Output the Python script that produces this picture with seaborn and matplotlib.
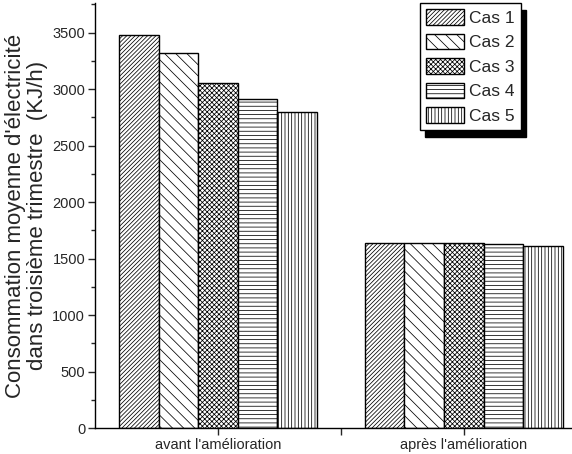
import matplotlib
matplotlib.use("Agg")
import matplotlib.pyplot as plt
import seaborn as sns
import pandas as pd
from matplotlib.ticker import MultipleLocator

periods = ["avant l'amélioration", "après l'amélioration"]
cases = ["Cas 1", "Cas 2", "Cas 3", "Cas 4", "Cas 5"]
avant = [3480, 3320, 3050, 2910, 2800]
apres = [1636, 1636, 1636, 1627, 1609]
hatches = ["////////", "\\\\\\", "xxxxxxx", "----", "|||||"]

rows = []
for c, v in zip(cases, avant):
    rows.append({"period": periods[0], "case": c, "value": v})
for c, v in zip(cases, apres):
    rows.append({"period": periods[1], "case": c, "value": v})
df = pd.DataFrame(rows)

sns.set_style("ticks")
plt.rcParams["font.family"] = ["Liberation Sans", "DejaVu Sans"]
plt.rcParams["hatch.linewidth"] = 0.55

fig = plt.figure(figsize=(5.72, 4.54), dpi=100)
ax = fig.add_axes([0.166, 0.057, 0.834, 0.936])

sns.barplot(data=df, x="period", y="value", hue="case", order=periods,
            hue_order=cases, width=0.805, gap=0, ax=ax,
            color="white", edgecolor="black", linewidth=1.0,
            errorbar=None, legend=False)

for cont, h in zip(ax.containers, hatches):
    for p in cont.patches:
        p.set_facecolor("white")
        p.set_edgecolor("black")
        p.set_hatch(h)

ax.set_ylim(0, 3760)
ax.set_xlim(-0.5, 1.44)
ax.yaxis.set_major_locator(MultipleLocator(500))
ax.yaxis.set_minor_locator(MultipleLocator(250))
ax.set_xticks([0, 1])
ax.set_xticks([0.5], minor=True)
ax.set_xticklabels(periods, fontsize=10.5)
ax.tick_params(axis="y", labelsize=10.5, direction="out", length=5, width=1, pad=2)
ax.tick_params(axis="y", which="minor", length=3, width=1)
ax.tick_params(axis="x", direction="out", length=5, width=1, pad=2)
ax.tick_params(axis="x", which="minor", length=5, width=1)
for s in ["top", "right"]:
    ax.spines[s].set_visible(False)
for s in ["left", "bottom"]:
    ax.spines[s].set_linewidth(1.0)
    ax.spines[s].set_color("black")

ax.set_xlabel("")
ax.set_ylabel("Consommation moyenne d'électricité\ndans troisième trimestre  (KJ/h)",
              fontsize=16, labelpad=3, linespacing=1.1)

leg = ax.legend(handles=ax.containers, labels=cases, loc="upper left",
                bbox_to_anchor=(420 / 572, 1 - 3 / 454), bbox_transform=fig.transFigure,
                fancybox=False, shadow={"color": "black", "alpha": 1.0, "ox": 3.6, "oy": -5},
                framealpha=1, edgecolor="black", fontsize=12.5, handlelength=2.2,
                handleheight=1.0, labelspacing=0.45, borderpad=0.35, handletextpad=0.3,
                borderaxespad=0)
leg.get_frame().set_linewidth(1.0)

fig.savefig("out.png", dpi=100)
